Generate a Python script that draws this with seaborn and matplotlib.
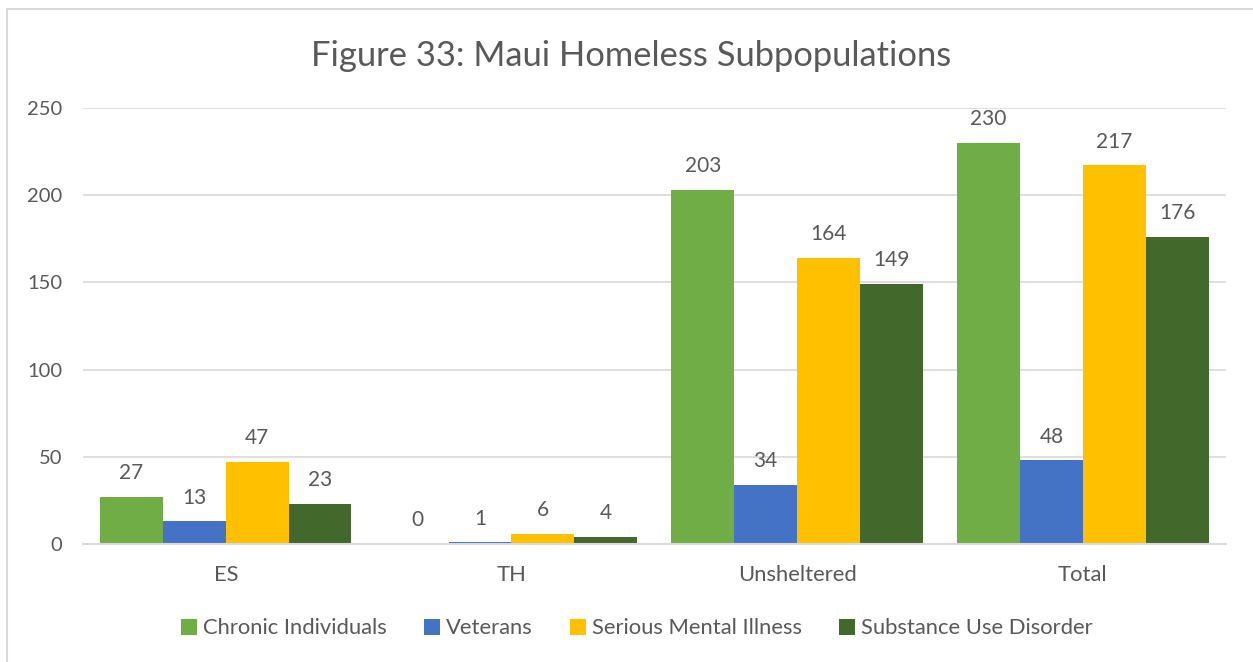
import matplotlib
matplotlib.use("Agg")
import matplotlib.pyplot as plt
from matplotlib.patches import Rectangle
import seaborn as sns
import pandas as pd

# Point-in-time count subpopulations by shelter status
categories = ["ES", "TH", "Unsheltered", "Total"]
series = ["Chronic Individuals", "Veterans", "Serious Mental Illness", "Substance Use Disorder"]
chronic = [27, 0, 203, 230]
veterans = [13, 1, 34, 48]
mental_illness = [47, 6, 164, 217]
substance_use = [23, 4, 149, 176]
y_ticks = [0, 50, 100, 150, 200, 250]

colors = ["#70AD47", "#4472C4", "#FFC000", "#43682B"]
text_color = "#595959"

rows = []
for name, vals in zip(series, [chronic, veterans, mental_illness, substance_use]):
    for cat, v in zip(categories, vals):
        rows.append({"Category": cat, "Group": name, "Count": v})
df = pd.DataFrame(rows)

sns.set_theme(style="white")
plt.rcParams["font.family"] = ["Lato", "DejaVu Sans"]

fig = plt.figure(figsize=(12.53, 6.62), dpi=100)
ax = fig.add_axes([0.0662, 0.178, 0.912, 0.659])

sns.barplot(data=df, x="Category", y="Count", hue="Group", order=categories,
            hue_order=series, palette=colors, width=0.88, saturation=1,
            edgecolor="none", ax=ax)

for cont in ax.containers:
    ax.bar_label(cont, fmt="%d", padding=10, fontsize=15, color=text_color)

ax.set_ylim(0, 250)
ax.set_xlim(-0.5, 3.5)
ax.set_yticks(y_ticks)
ax.set_yticklabels([str(t) for t in y_ticks])
ax.yaxis.grid(True, color="#D9D9D9", linewidth=1.2)
ax.set_axisbelow(True)
for side in ["top", "right", "left"]:
    ax.spines[side].set_visible(False)
ax.spines["bottom"].set_color("#D9D9D9")
ax.spines["bottom"].set_linewidth(1.5)
ax.tick_params(axis="both", length=0, labelcolor=text_color)
ax.tick_params(axis="x", pad=15, labelsize=15.8)
ax.tick_params(axis="y", pad=15, labelsize=14.5)
ax.set_xlabel("")
ax.set_ylabel("")

fig.suptitle("Figure 33: Maui Homeless Subpopulations", x=0.504, y=0.94,
             fontsize=24.8, color=text_color)

handles, labels = ax.get_legend_handles_labels()
ax.legend_.remove()
fig.legend(handles, labels, loc="center", bbox_to_anchor=(0.508, 0.051), ncol=4,
           frameon=False, fontsize=15.8, labelcolor=text_color, handlelength=0.75,
           handleheight=0.75, handletextpad=0.25, columnspacing=1.7)

# Chart area border (left and top edges visible)
fig.patches.append(Rectangle((0.0056, -0.05), 1.2, 1.036, transform=fig.transFigure,
                             fill=False, edgecolor="#D9D9D9", linewidth=1.5))

fig.savefig("out.png", dpi=100)
